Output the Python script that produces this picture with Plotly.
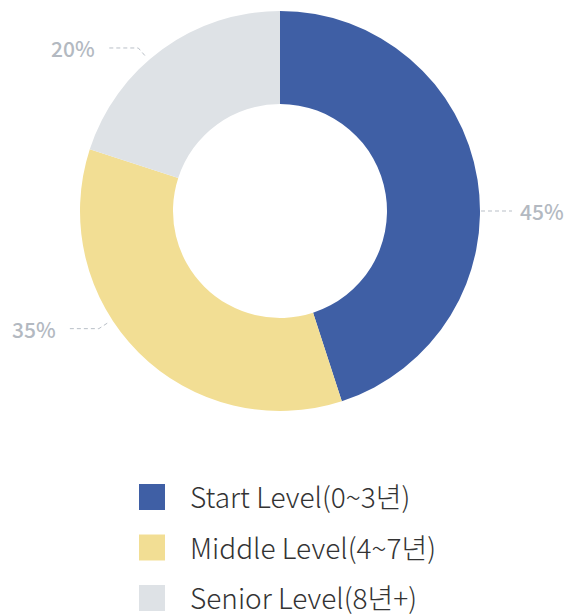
import math
import plotly.graph_objects as go

# ---- data ----
categories = ["Start Level(0~3년)", "Middle Level(4~7년)", "Senior Level(8년+)"]
shares = [45, 35, 20]
pct_labels = ["45%", "35%", "20%"]
colors = ["#3f5fa5", "#f2de94", "#dee2e6"]

# ---- layout constants ----
W, H = 564, 616
CX, CY, R = 280, 211, 200
HOLE = 0.535
label_angles = [90, 237, 319]  # degrees clockwise from 12 o'clock, where leader lines leave the ring
FONT = "Noto Sans CJK KR"
LEG_FONT = "Noto Sans CJK KR Light, Noto Sans CJK KR"
LINE_COLOR = "#b9bfc7"
PCT_COLOR = "#b3b9c1"


def px(x):
    return x / W


def py(y):
    return 1 - y / H


fig = go.Figure(
    go.Pie(
        labels=categories,
        values=shares,
        sort=False,
        direction="clockwise",
        rotation=0,
        hole=HOLE,
        marker=dict(colors=colors, line=dict(width=0)),
        textinfo="none",
        hoverinfo="label+percent",
        showlegend=False,
        domain=dict(x=[px(CX - R), px(CX + R)], y=[py(CY + R), py(CY - R)]),
    )
)

shapes = []
annotations = []
for ang, txt in zip(label_angles, pct_labels):
    a = math.radians(ang)
    ux, uy = math.sin(a), -math.cos(a)
    right = ux > 0.01
    side = 1 if right else -1
    s_off, e_off = (1, 10) if right else (6, 16)
    horiz = 22 if right else 32
    gap = 6 if right else 9
    sx, sy = CX + (R + s_off) * ux, CY + (R + s_off) * uy
    ex, ey = CX + (R + e_off) * ux, CY + (R + e_off) * uy
    hx = ex + side * horiz
    path = f"M {px(sx)} {py(sy)} L {px(ex)} {py(ey)} L {px(hx)} {py(ey)}"
    shapes.append(dict(type="path", xref="paper", yref="paper", path=path,
                       line=dict(color=LINE_COLOR, width=1, dash="4px,3px")))
    annotations.append(dict(
        x=px(hx + side * gap), y=py(ey), xref="paper", yref="paper",
        text=txt, showarrow=False,
        xanchor="left" if right else "right", yanchor="middle",
        font=dict(family=FONT, size=21, color=PCT_COLOR, weight=500),
    ))

# custom legend
LEG_X, LEG_Y0, LEG_DY, SQ = 139, 497, 50.5, 26
for i, (cat, col) in enumerate(zip(categories, colors)):
    yc = LEG_Y0 + i * LEG_DY
    shapes.append(dict(type="rect", xref="paper", yref="paper",
                       x0=px(LEG_X), x1=px(LEG_X + SQ), y0=py(yc + SQ / 2), y1=py(yc - SQ / 2),
                       fillcolor=col, line=dict(width=0)))
    annotations.append(dict(
        x=px(189), y=py(yc - 1), xref="paper", yref="paper", text=cat, showarrow=False,
        xanchor="left", yanchor="middle", borderpad=0,
        font=dict(family=LEG_FONT, size=28, color="#333333", weight=300),
    ))

fig.update_layout(
    width=W, height=H,
    margin=dict(l=0, r=0, t=0, b=0),
    paper_bgcolor="white", plot_bgcolor="white",
    shapes=shapes, annotations=annotations,
    showlegend=False,
)

fig.write_html("out.html")
